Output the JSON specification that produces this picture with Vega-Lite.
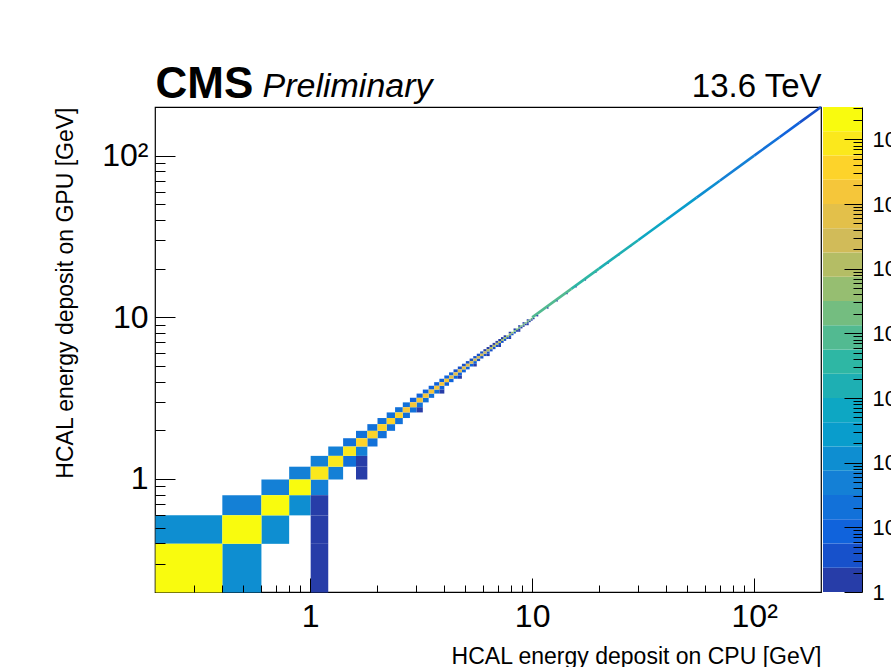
{
  "$schema": "https://vega.github.io/schema/vega-lite/v6.json",
  "autosize": {"type": "pad"},
  "padding": {"left": 53, "top": 61, "right": 0, "bottom": 0},
  "bounds": "flush",
  "spacing": 2,
  "background": "white",
  "datasets": {
    "diag": [
      {"x":0.2,"y":0.2,"c":30000000},{"x":0.4,"y":0.4,"c":28000000},{"x":0.6,"y":0.6,"c":24000000},{"x":0.8,"y":0.8,"c":18000000},
      {"x":1.0,"y":1.0,"c":11000000},{"x":1.2,"y":1.2,"c":9000000},{"x":1.4,"y":1.4,"c":7000000},{"x":1.6,"y":1.6,"c":5000000},
      {"x":1.8,"y":1.8,"c":4500000},{"x":2.0,"y":2.0,"c":4000000},{"x":2.2,"y":2.2,"c":3500000},{"x":2.4,"y":2.4,"c":3000000},
      {"x":2.6,"y":2.6,"c":2200000},{"x":2.8,"y":2.8,"c":2000000},{"x":3.0,"y":3.0,"c":1800000},{"x":3.2,"y":3.2,"c":1600000},
      {"x":3.4,"y":3.4,"c":1500000},{"x":3.6,"y":3.6,"c":1300000},{"x":3.8,"y":3.8,"c":1200000},{"x":4.0,"y":4.0,"c":1050000},
      {"x":4.2,"y":4.2,"c":900000},{"x":4.4,"y":4.4,"c":800000},{"x":4.6,"y":4.6,"c":700000},{"x":4.8,"y":4.8,"c":600000},
      {"x":5.0,"y":5.0,"c":500000},{"x":5.2,"y":5.2,"c":400000},{"x":5.4,"y":5.4,"c":350000},{"x":5.6,"y":5.6,"c":300000},
      {"x":5.8,"y":5.8,"c":250000},{"x":6.0,"y":6.0,"c":200000},{"x":6.2,"y":6.2,"c":160000},{"x":6.4,"y":6.4,"c":140000},
      {"x":6.6,"y":6.6,"c":120000},{"x":6.8,"y":6.8,"c":100000},{"x":7.0,"y":7.0,"c":85000},{"x":7.2,"y":7.2,"c":70000},
      {"x":7.4,"y":7.4,"c":60000},{"x":7.6,"y":7.6,"c":50000},{"x":7.8,"y":7.8,"c":42000},{"x":8.0,"y":8.0,"c":36000},
      {"x":8.2,"y":8.2,"c":30000},{"x":8.4,"y":8.4,"c":27000},{"x":8.6,"y":8.6,"c":24000},{"x":8.8,"y":8.8,"c":22000},
      {"x":9.0,"y":9.0,"c":20000},{"x":9.2,"y":9.2,"c":18000},{"x":9.4,"y":9.4,"c":16000},{"x":9.6,"y":9.6,"c":15000},
      {"x":9.8,"y":9.8,"c":14000}
    ],
    "offdiag": [
      {"x":0.4,"y":0.2,"c":110},{"x":0.2,"y":0.4,"c":120},{"x":0.6,"y":0.4,"c":100},{"x":0.4,"y":0.6,"c":45},
      {"x":0.8,"y":0.6,"c":95},{"x":0.6,"y":0.8,"c":45},{"x":1.0,"y":0.8,"c":50},{"x":0.8,"y":1.0,"c":50},
      {"x":1.2,"y":1.0,"c":45},{"x":1.0,"y":1.2,"c":50},{"x":1.4,"y":1.2,"c":28},{"x":1.2,"y":1.4,"c":35},
      {"x":1.6,"y":1.4,"c":40},{"x":1.4,"y":1.6,"c":25},
      {"x":1.0,"y":0.2,"c":1},{"x":1.0,"y":0.4,"c":1},{"x":1.0,"y":0.6,"c":1},{"x":1.6,"y":1.0,"c":1},{"x":1.6,"y":1.2,"c":1},
      {"x":1.8,"y":1.6,"c":28},{"x":1.6,"y":1.8,"c":28},{"x":2.0,"y":1.8,"c":25},{"x":1.8,"y":2.0,"c":22},
      {"x":2.2,"y":2.0,"c":25},{"x":2.0,"y":2.2,"c":20},{"x":2.4,"y":2.2,"c":24},{"x":2.2,"y":2.4,"c":18},
      {"x":2.6,"y":2.4,"c":22},{"x":2.4,"y":2.6,"c":16},{"x":2.8,"y":2.6,"c":20},{"x":2.6,"y":2.8,"c":15},
      {"x":3.0,"y":2.8,"c":18},{"x":2.8,"y":3.0,"c":12},{"x":3.2,"y":3.0,"c":16},{"x":3.0,"y":3.2,"c":11},
      {"x":3.4,"y":3.2,"c":15},{"x":3.2,"y":3.4,"c":10},{"x":3.6,"y":3.4,"c":14},{"x":3.4,"y":3.6,"c":9},
      {"x":3.8,"y":3.6,"c":12},{"x":3.6,"y":3.8,"c":8},{"x":4.0,"y":3.8,"c":11},{"x":3.8,"y":4.0,"c":8},
      {"x":4.2,"y":4.0,"c":10},{"x":4.0,"y":4.2,"c":7},{"x":4.4,"y":4.2,"c":9},{"x":4.2,"y":4.4,"c":6},
      {"x":4.6,"y":4.4,"c":8},{"x":4.4,"y":4.6,"c":5},{"x":4.8,"y":4.6,"c":8},{"x":4.6,"y":4.8,"c":5},
      {"x":5.0,"y":4.8,"c":7},{"x":4.8,"y":5.0,"c":4},{"x":5.2,"y":5.0,"c":6},{"x":5.0,"y":5.2,"c":4},
      {"x":5.4,"y":5.2,"c":6},{"x":5.2,"y":5.4,"c":3},{"x":5.6,"y":5.4,"c":5},{"x":5.4,"y":5.6,"c":3},
      {"x":5.8,"y":5.6,"c":5},{"x":5.6,"y":5.8,"c":3},{"x":6.0,"y":5.8,"c":4},{"x":5.8,"y":6.0,"c":3},
      {"x":6.2,"y":6.0,"c":4},{"x":6.0,"y":6.2,"c":2},{"x":6.4,"y":6.2,"c":4},{"x":6.2,"y":6.4,"c":2},
      {"x":6.6,"y":6.4,"c":3},{"x":6.4,"y":6.6,"c":2},{"x":6.8,"y":6.6,"c":3},{"x":6.6,"y":6.8,"c":2},
      {"x":7.0,"y":6.8,"c":3},{"x":6.8,"y":7.0,"c":2},{"x":7.2,"y":7.0,"c":3},{"x":7.0,"y":7.2,"c":1.5},
      {"x":7.4,"y":7.2,"c":3},{"x":7.2,"y":7.4,"c":1.5},{"x":7.6,"y":7.4,"c":2.5},{"x":7.4,"y":7.6,"c":1.5},
      {"x":7.8,"y":7.6,"c":2.5},{"x":8.0,"y":7.8,"c":2.5},{"x":7.8,"y":8.0,"c":1.5},{"x":8.2,"y":8.0,"c":2.5},
      {"x":8.4,"y":8.2,"c":2},{"x":8.2,"y":8.4,"c":1.5},{"x":8.6,"y":8.4,"c":2},{"x":8.8,"y":8.6,"c":2},
      {"x":8.6,"y":8.8,"c":1},{"x":9.0,"y":8.8,"c":2},{"x":9.2,"y":9.0,"c":2},{"x":9.0,"y":9.2,"c":1},
      {"x":9.4,"y":9.2,"c":2},{"x":9.6,"y":9.4,"c":2},{"x":9.4,"y":9.6,"c":1},{"x":9.8,"y":9.6,"c":2},
      {"x":10.0,"y":9.8,"c":2},
      {"x":3.0,"y":2.6,"c":1.5},{"x":3.8,"y":3.4,"c":1.5},{"x":4.6,"y":4.2,"c":1.5},{"x":5.4,"y":5.0,"c":1},
      {"x":6.2,"y":5.8,"c":1},{"x":7.0,"y":6.6,"c":1},{"x":7.8,"y":7.4,"c":1},{"x":8.6,"y":8.2,"c":1},{"x":9.4,"y":9.0,"c":1}
    ],
    "sparse": [
      {"x":10.4,"y":10.2,"c":1.5},{"x":11.6,"y":11.4,"c":1.5},{"x":12.8,"y":12.6,"c":1.5},{"x":14.2,"y":14.0,"c":1.5},
      {"x":15.6,"y":15.4,"c":1.5},{"x":17.2,"y":17.0,"c":1.5},{"x":19.2,"y":19.0,"c":1.5},{"x":21.8,"y":21.6,"c":1.5},
      {"x":24.4,"y":24.2,"c":1.5},{"x":27.6,"y":27.4,"c":1.5}
    ],
    "runs": [
      {"lo":10,"hi":15,"c":10000},{"lo":15,"hi":20,"c":4000},{"lo":20,"hi":30,"c":1500},{"lo":30,"hi":40,"c":600},
      {"lo":40,"hi":55,"c":250},{"lo":55,"hi":70,"c":110},{"lo":70,"hi":100,"c":50},{"lo":100,"hi":130,"c":20},
      {"lo":130,"hi":160,"c":8},{"lo":160,"hi":200,"c":3}
    ],
    "bands": [
      {"lo":1,"hi":2.371},{"lo":2.371,"hi":5.623},{"lo":5.623,"hi":13.34},{"lo":13.34,"hi":31.62},
      {"lo":31.62,"hi":74.99},{"lo":74.99,"hi":177.8},{"lo":177.8,"hi":421.7},{"lo":421.7,"hi":1000},
      {"lo":1000,"hi":2371},{"lo":2371,"hi":5623},{"lo":5623,"hi":13340},{"lo":13340,"hi":31620},
      {"lo":31620,"hi":74990},{"lo":74990,"hi":177800},{"lo":177800,"hi":421700},{"lo":421700,"hi":1000000},
      {"lo":1000000,"hi":2371000},{"lo":2371000,"hi":5623000},{"lo":5623000,"hi":13340000},{"lo":13340000,"hi":31622777}
    ]
  },
  "hconcat": [
    {
      "width": 666,
      "height": 485,
      "view": {"stroke": "#000", "strokeWidth": 1.2},
      "resolve": {"axis": {"x": "independent", "y": "independent"}},
      "layer": [
        {
          "data": {"name": "offdiag"},
          "mark": {"type": "rect"},
          "encoding": {
            "x": {"field": "x", "type": "quantitative", "bin": {"binned": true, "step": 0.2},
              "scale": {"type": "log", "domain": [0.2, 200], "nice": false, "zero": false},
              "axis": {"orient": "bottom", "offset": -14, "tickSize": 14, "values": [1, 10, 100],
                "labelExpr": "datum.value < 5 ? '1' : datum.value < 50 ? '10' : '10²'",
                "labelFontSize": 32, "labelPadding": 9, "labelFlush": false, "labelOverlap": false,
                "domain": false, "grid": false, "zindex": 1,
                "title": "HCAL energy deposit on CPU [GeV]", "titleX": 666, "titleY": 85, "titleAlign": "right",
                "titleBaseline": "alphabetic", "titleFontSize": 23, "titleFontWeight": "normal", "titleAngle": 0}},
            "y": {"field": "y", "type": "quantitative", "bin": {"binned": true, "step": 0.2},
              "scale": {"type": "log", "domain": [0.2, 200], "nice": false, "zero": false},
              "axis": {"orient": "left", "offset": -20, "tickSize": 20, "values": [1, 10, 100],
                "labelExpr": "datum.value < 5 ? '1' : datum.value < 50 ? '10' : '10²'",
                "labelFontSize": 32, "labelPadding": 7, "labelFlush": false, "labelOverlap": false,
                "domain": false, "grid": false, "zindex": 1,
                "title": "HCAL energy deposit on GPU [GeV]", "titleX": -103, "titleY": 0, "titleAngle": -90,
                "titleAlign": "right", "titleBaseline": "alphabetic", "titleFontSize": 23, "titleFontWeight": "normal"}},
            "color": {"field": "c", "type": "quantitative", "legend": null,
              "scale": {"type": "threshold",
                "domain": [2.371,5.623,13.34,31.62,74.99,177.8,421.7,1000,2371,5623,13340,31620,74990,177800,421700,1000000,2371000,5623000,13340000],
                "range": ["#273da8","#1751cb","#1063dc","#1271d9","#1480d6","#0e8ed1","#099dcc","#0da7c3","#1eafb3","#2eb7a4","#52ba91","#74bd80","#96be71","#b4bd65","#d1bb59","#e3c04a","#f5c63a","#fdd32a","#fbe81c","#f9fb0e"]}}
          }
        },
        {
          "data": {"name": "runs"},
          "mark": {"type": "rule", "strokeWidth": 2.6},
          "encoding": {
            "x": {"field": "lo", "type": "quantitative",
              "scale": {"type": "log", "domain": [0.2, 200], "nice": false, "zero": false},
              "axis": {"orient": "bottom", "offset": -7, "tickSize": 7,
                "values": [0.3,0.4,0.5,0.6,0.7,0.8,0.9,2,3,4,5,6,7,8,9,20,30,40,50,60,70,80,90],
                "labels": false, "domain": false, "grid": false, "title": null, "zindex": 1}},
            "x2": {"field": "hi"},
            "y": {"field": "lo", "type": "quantitative",
              "scale": {"type": "log", "domain": [0.2, 200], "nice": false, "zero": false},
              "axis": {"orient": "left", "offset": -10, "tickSize": 10,
                "values": [0.3,0.4,0.5,0.6,0.7,0.8,0.9,2,3,4,5,6,7,8,9,20,30,40,50,60,70,80,90],
                "labels": false, "domain": false, "grid": false, "title": null, "zindex": 1}},
            "y2": {"field": "hi"},
            "color": {"field": "c", "type": "quantitative", "legend": null,
              "scale": {"type": "threshold",
                "domain": [2.371,5.623,13.34,31.62,74.99,177.8,421.7,1000,2371,5623,13340,31620,74990,177800,421700,1000000,2371000,5623000,13340000],
                "range": ["#273da8","#1751cb","#1063dc","#1271d9","#1480d6","#0e8ed1","#099dcc","#0da7c3","#1eafb3","#2eb7a4","#52ba91","#74bd80","#96be71","#b4bd65","#d1bb59","#e3c04a","#f5c63a","#fdd32a","#fbe81c","#f9fb0e"]}}
          }
        },
        {
          "data": {"name": "sparse"},
          "mark": {"type": "rect"},
          "encoding": {
            "x": {"field": "x", "type": "quantitative", "bin": {"binned": true, "step": 0.2},
              "scale": {"type": "log", "domain": [0.2, 200], "nice": false, "zero": false},
              "axis": {"orient": "top", "ticks": false, "labels": false, "domain": false, "grid": false,
                "title": "CMS", "titleX": 0, "titleY": -10, "titleAlign": "left", "titleBaseline": "alphabetic",
                "titleFontSize": 44, "titleFontWeight": "bold", "titleAngle": 0}},
            "y": {"field": "y", "type": "quantitative", "bin": {"binned": true, "step": 0.2},
              "scale": {"type": "log", "domain": [0.2, 200], "nice": false, "zero": false},
              "axis": {"orient": "right", "ticks": false, "labels": false, "domain": false, "grid": false,
                "title": "13.6 TeV", "titleX": 0, "titleY": -11, "titleAngle": 0, "titleAlign": "right",
                "titleBaseline": "alphabetic", "titleFontSize": 33, "titleFontWeight": "normal"}},
            "color": {"field": "c", "type": "quantitative", "legend": null,
              "scale": {"type": "threshold",
                "domain": [2.371,5.623,13.34,31.62,74.99,177.8,421.7,1000,2371,5623,13340,31620,74990,177800,421700,1000000,2371000,5623000,13340000],
                "range": ["#273da8","#1751cb","#1063dc","#1271d9","#1480d6","#0e8ed1","#099dcc","#0da7c3","#1eafb3","#2eb7a4","#52ba91","#74bd80","#96be71","#b4bd65","#d1bb59","#e3c04a","#f5c63a","#fdd32a","#fbe81c","#f9fb0e"]}}
          }
        },
        {
          "data": {"name": "diag"},
          "mark": {"type": "rect"},
          "encoding": {
            "x": {"field": "x", "type": "quantitative", "bin": {"binned": true, "step": 0.2},
              "scale": {"type": "log", "domain": [0.2, 200], "nice": false, "zero": false},
              "axis": {"orient": "top", "ticks": false, "labels": false, "domain": false, "grid": false,
                "title": "Preliminary", "titleX": 107, "titleY": -11, "titleAlign": "left", "titleBaseline": "alphabetic",
                "titleFontSize": 34, "titleFontWeight": "normal", "titleFontStyle": "italic", "titleAngle": 0}},
            "y": {"field": "y", "type": "quantitative", "bin": {"binned": true, "step": 0.2},
              "scale": {"type": "log", "domain": [0.2, 200], "nice": false, "zero": false},
              "axis": null},
            "color": {"field": "c", "type": "quantitative", "legend": null,
              "scale": {"type": "threshold",
                "domain": [2.371,5.623,13.34,31.62,74.99,177.8,421.7,1000,2371,5623,13340,31620,74990,177800,421700,1000000,2371000,5623000,13340000],
                "range": ["#273da8","#1751cb","#1063dc","#1271d9","#1480d6","#0e8ed1","#099dcc","#0da7c3","#1eafb3","#2eb7a4","#52ba91","#74bd80","#96be71","#b4bd65","#d1bb59","#e3c04a","#f5c63a","#fdd32a","#fbe81c","#f9fb0e"]}}
          }
        }
      ]
    },
    {
      "width": 39,
      "height": 485,
      "view": {"stroke": null},
      "data": {"name": "bands"},
      "resolve": {"axis": {"y": "independent"}},
      "layer": [
        {
          "mark": {"type": "rect"},
          "encoding": {
            "x": {"datum": 0, "type": "quantitative", "scale": {"domain": [0, 1], "nice": false, "zero": false}, "axis": null},
            "x2": {"datum": 1},
            "y": {"field": "lo", "type": "quantitative",
              "scale": {"type": "log", "domain": [1, 31622777], "nice": false, "zero": false},
              "axis": {"orient": "right", "offset": -18, "tickSize": 18,
                "values": [1, 10, 100, 1000, 10000, 100000, 1000000, 10000000],
                "labelExpr": "datum.value < 5 ? '1' : datum.value < 50 ? '10' : '10' + ['','','²','³','⁴','⁵','⁶','⁷'][round(log(datum.value)/LN10)]",
                "labelFontSize": 22, "labelPadding": 10, "labelAlign": "left", "labelFlush": false, "labelOverlap": false,
                "domain": false, "grid": false, "title": null, "zindex": 1}},
            "y2": {"field": "hi"},
            "color": {"field": "lo", "type": "quantitative", "legend": null,
              "scale": {"type": "threshold",
                "domain": [2.371,5.623,13.34,31.62,74.99,177.8,421.7,1000,2371,5623,13340,31620,74990,177800,421700,1000000,2371000,5623000,13340000],
                "range": ["#273da8","#1751cb","#1063dc","#1271d9","#1480d6","#0e8ed1","#099dcc","#0da7c3","#1eafb3","#2eb7a4","#52ba91","#74bd80","#96be71","#b4bd65","#d1bb59","#e3c04a","#f5c63a","#fdd32a","#fbe81c","#f9fb0e"]}}
          }
        },
        {
          "mark": {"type": "rect", "opacity": 0},
          "encoding": {
            "x": {"datum": 0, "type": "quantitative", "scale": {"domain": [0, 1], "nice": false, "zero": false}, "axis": null},
            "x2": {"datum": 1},
            "y": {"field": "lo", "type": "quantitative",
              "scale": {"type": "log", "domain": [1, 31622777], "nice": false, "zero": false},
              "axis": {"orient": "right", "offset": -9, "tickSize": 9,
                "values": [2,3,4,5,6,7,8,9,20,30,40,50,60,70,80,90,200,300,400,500,600,700,800,900,2000,3000,4000,5000,6000,7000,8000,9000,20000,30000,40000,50000,60000,70000,80000,90000,200000,300000,400000,500000,600000,700000,800000,900000,2000000,3000000,4000000,5000000,6000000,7000000,8000000,9000000,20000000,30000000],
                "labels": false, "domain": false, "grid": false, "title": null, "zindex": 1}},
            "y2": {"field": "hi"}
          }
        },
        {
          "mark": {"type": "rect", "opacity": 0},
          "encoding": {
            "x": {"datum": 0, "type": "quantitative", "scale": {"domain": [0, 1], "nice": false, "zero": false}, "axis": null},
            "x2": {"datum": 1},
            "y": {"field": "lo", "type": "quantitative",
              "scale": {"type": "log", "domain": [1, 31622777], "nice": false, "zero": false},
              "axis": {"orient": "right", "ticks": false, "labels": false, "domain": true, "domainColor": "#000",
                "grid": false, "title": null, "zindex": 1}},
            "y2": {"field": "hi"}
          }
        }
      ]
    }
  ],
  "config": {
    "font": "Liberation Sans",
    "view": {"stroke": null},
    "axis": {"labelFont": "Liberation Sans", "titleFont": "Liberation Sans", "labelColor": "#000", "titleColor": "#000",
      "tickColor": "#000", "domainColor": "#000", "tickWidth": 1, "grid": false}
  }
}
